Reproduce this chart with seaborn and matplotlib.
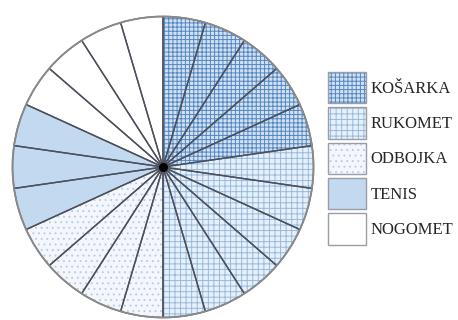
import matplotlib.pyplot as plt
import seaborn as sns
import numpy as np
from matplotlib.patches import Patch

sns.set_theme(style="white")
plt.rcParams['font.family'] = ['Liberation Serif', 'DejaVu Serif']
plt.rcParams['hatch.linewidth'] = 0.7

# broj sektora po sportu (svaki sektor jednak)
sports = ['KOŠARKA', 'RUKOMET', 'ODBOJKA', 'TENIS', 'NOGOMET']
counts = [5, 6, 4, 3, 4]

faces = ['#d0e1f3', '#e6f0fa', '#f3f7fc', '#c3d9ef', '#ffffff']
hatches = ['++++', '+++', '...', '', '']
hcols = ['#5586c0', '#98b9df', '#b9cde6', '#c3d9ef', '#ffffff']

slice_cat = np.repeat(np.arange(len(sports)), counts)
slices = np.ones(len(slice_cat))

fig = plt.figure(figsize=(4.58, 3.2), dpi=100)
ax = fig.add_axes([11 / 458, 1 / 320, 304 / 458, 304 / 320])

# fill + hatch layer
wedges, _ = ax.pie(slices, startangle=90, counterclock=False,
                   colors=[faces[c] for c in slice_cat])
for w, c in zip(wedges, slice_cat):
    w.set_hatch(hatches[c])
    w.set_edgecolor(hcols[c])
    w.set_linewidth(0)

# outline layer
out, _ = ax.pie(slices, startangle=90, counterclock=False,
                colors=['none'] * len(slices),
                wedgeprops=dict(edgecolor='#4b505c', linewidth=1.0))
ax.add_patch(plt.Circle((0, 0), 1, fill=False, edgecolor='#8a8a8a', lw=1.3))
ax.scatter([0], [0], s=30, color='black', zorder=5)
ax.set_xlim(-1.01, 1.01)
ax.set_ylim(-1.01, 1.01)
ax.set_aspect('equal')
ax.axis('off')

handles = []
for i in range(len(sports)):
    p1 = Patch(facecolor=faces[i], hatch=hatches[i], edgecolor=hcols[i], linewidth=0)
    p2 = Patch(facecolor='none', edgecolor='#9a9ea6', linewidth=1.0)
    handles.append((p1, p2))

leg = fig.legend(handles, sports, loc='upper left', bbox_to_anchor=(328 / 458, 1 - 72 / 320),
                 frameon=False, fontsize=12, handlelength=2.3, handleheight=2.5,
                 labelspacing=0.25, handletextpad=0.25, borderpad=0, borderaxespad=0)
for t in leg.get_texts():
    t.set_color('#262626')

fig.savefig('out.png', dpi=100)
